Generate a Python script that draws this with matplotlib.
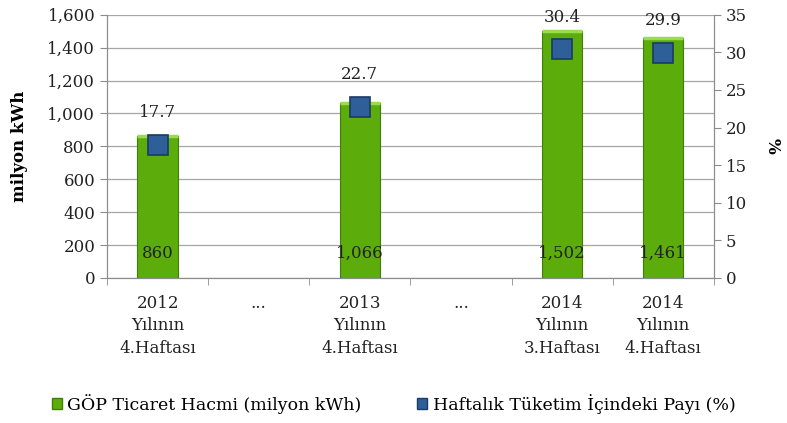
import numpy as np
import matplotlib
matplotlib.use("Agg")
import matplotlib.pyplot as plt
from matplotlib.patches import Patch

plt.rcParams['font.family'] = ['DejaVu Serif']

categories = ["2012\nYılının\n4.Haftası", "...", "2013\nYılının\n4.Haftası",
              "...", "2014\nYılının\n3.Haftası", "2014\nYılının\n4.Haftası"]
bar_idx = [0, 2, 4, 5]
volume = [860, 1066, 1502, 1461]
share = [17.7, 22.7, 30.4, 29.9]

bar_color = '#5cac0c'
bar_edge = '#3f7f08'
mark_color = '#2f5f98'
mark_edge = '#1c3a66'
txt = '#222222'

fig = plt.figure(figsize=(7.87, 4.23), dpi=100)
ax = fig.add_axes([0.136, 0.343, 0.771, 0.622])
ax2 = ax.twinx()

ax.set_xlim(-0.5, len(categories) - 0.5)
ax.set_ylim(0, 1600)
ax2.set_ylim(0, 35)

ax.set_axisbelow(True)
ax.yaxis.grid(True, color='#a6a6a6', lw=0.9)
ax.bar(bar_idx, volume, width=0.4, color=bar_color, edgecolor=bar_edge, lw=0.8, zorder=2)
# light top bevel on bars
for i, v in zip(bar_idx, volume):
    ax.plot([i - 0.2, i + 0.2], [v, v], color='#9bdc4a', lw=2.5, zorder=3, solid_capstyle='butt')
    ax.text(i, 150, f"{v:,}", ha='center', va='center', fontsize=12, color=txt, zorder=4)

ax2.plot(bar_idx, share, ls='none', marker='s', ms=15, color=mark_color,
         markeredgecolor=mark_edge, markeredgewidth=1.2, zorder=5)
for i, s in zip(bar_idx, share):
    ax2.text(i, s + 4.3, f"{s}", ha='center', va='center', fontsize=12, color=txt)

ax.set_yticks(np.arange(0, 1601, 200))
ax.set_yticklabels([f"{t:,}" for t in range(0, 1601, 200)], fontsize=12, color=txt)
ax2.set_yticks(np.arange(0, 36, 5))
ax2.tick_params(axis='y', labelsize=12, labelcolor=txt, length=5, color='#8c8c8c')
ax.tick_params(axis='y', length=5, color='#8c8c8c')

ax.set_xticks(range(len(categories)))
ax.set_xticklabels(categories, fontsize=12, linespacing=1.45, color=txt)
ax.set_xticks(np.arange(-0.5, len(categories), 1), minor=True)
ax.tick_params(axis='x', which='major', length=0, pad=12)
ax.tick_params(axis='x', which='minor', length=5, color='#8c8c8c')

for a in (ax, ax2):
    for sp in a.spines.values():
        sp.set_color('#8c8c8c')
    a.spines['top'].set_visible(False)

ax.set_ylabel("milyon kWh", fontsize=12, fontweight='bold', labelpad=14)
ax2.set_ylabel("%", fontsize=12, fontweight='bold', rotation=-90, labelpad=24)

handles = [Patch(facecolor=bar_color, edgecolor=bar_edge),
           Patch(facecolor=mark_color, edgecolor=mark_edge)]
fig.legend(handles, ["GÖP Ticaret Hacmi (milyon kWh)", "Haftalık Tüketim İçindeki Payı (%)"],
           loc='center', bbox_to_anchor=(0.5, 0.045), ncol=2, frameon=False, fontsize=12.5,
           handlelength=0.6, handleheight=0.6, handletextpad=0.3, columnspacing=3.2)

plt.savefig("out.png", dpi=100)
